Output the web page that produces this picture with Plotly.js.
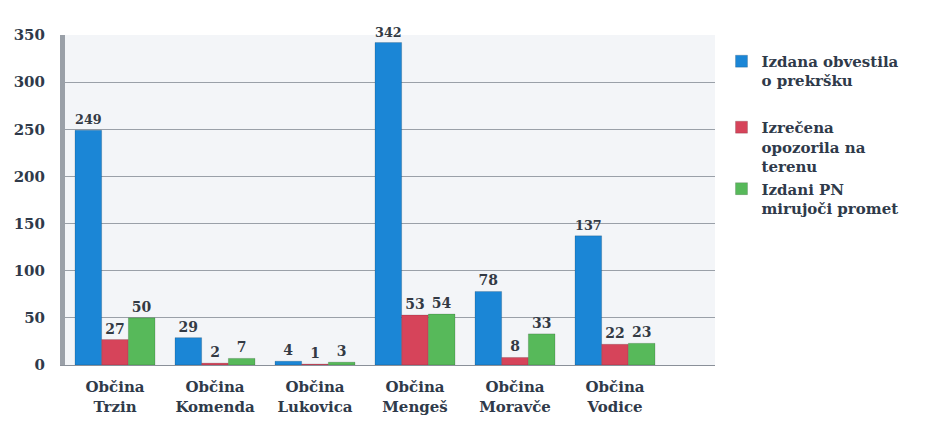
<!DOCTYPE html>
<html>
<head>
<meta charset="utf-8">
<script src="https://cdn.plot.ly/plotly-3.0.1.min.js"></script>
<style>html,body{margin:0;padding:0;background:#fff;}#chart{width:939px;height:430px;}</style>
</head>
<body>
<div id="chart"></div>
<script>
const categories = ["Občina<br>Trzin", "Občina<br>Komenda", "Občina<br>Lukovica", "Občina<br>Mengeš", "Občina<br>Moravče", "Občina<br>Vodice"];
const seriesNames = ["Izdana obvestila<br>o prekršku", "Izrečena<br>opozorila na<br>terenu", "Izdani PN<br>mirujoči promet"];
const obvestila = [249, 29, 4, 342, 78, 137];
const opozorila = [27, 2, 1, 53, 8, 22];
const mirujoci = [50, 7, 3, 54, 33, 23];
const colors = ["#1b86d6", "#d6445a", "#57b95a"];
const yTicks = [0, 50, 100, 150, 200, 250, 300, 350];

const serif = "DejaVu Serif";
const mk = (name, vals, color, grp) => ({
  type: "bar", name: name, x: categories, y: vals, legendgroup: grp,
  marker: {color: color, line: {color: "rgba(0,0,0,0.15)", width: 1}},
  text: vals.map(String), textposition: "outside", cliponaxis: false,
  textfont: {family: serif, size: 14, color: "#333a44", weight: "bold"}
});
const data = [
  mk(seriesNames[0], obvestila, colors[0], "g1"),
  mk(seriesNames[1], opozorila, colors[1], "g2"),
  mk(seriesNames[2], mirujoci, colors[2], "g2")
];
const layout = {
  width: 939, height: 430,
  margin: {l: 65, r: 224, t: 35, b: 65},
  paper_bgcolor: "#ffffff", plot_bgcolor: "#f3f5f8",
  barmode: "group", bargap: 0.2, bargroupgap: 0,
  font: {family: serif, color: "#333a44"},
  xaxis: {range: [-0.5, 6.0], tickfont: {family: serif, size: 15, weight: "bold", color: "#2f3a4a"},
    showline: true, linecolor: "#8a9099", ticks: "", showgrid: false, ticklabelstandoff: 8},
  yaxis: {range: [0, 350], tickvals: yTicks, tickfont: {family: serif, size: 15, weight: "bold", color: "#2f3a4a"},
    gridcolor: "#9aa0a8", gridwidth: 1, showline: true, linecolor: "#9aa0a8", linewidth: 5, zeroline: false, ticks: "", ticklabelstandoff: 12},
  legend: {x: 1.01, y: 0.97, xanchor: "left", yanchor: "top", tracegroupgap: 24, itemwidth: 30, valign: "top",
    traceorder: "grouped",
    font: {family: serif, size: 15, color: "#2f3a4a", weight: "bold"}, bgcolor: "rgba(0,0,0,0)"},
  showlegend: true
};
Plotly.newPlot("chart", data, layout, {displayModeBar: false});
</script>
</body>
</html>
